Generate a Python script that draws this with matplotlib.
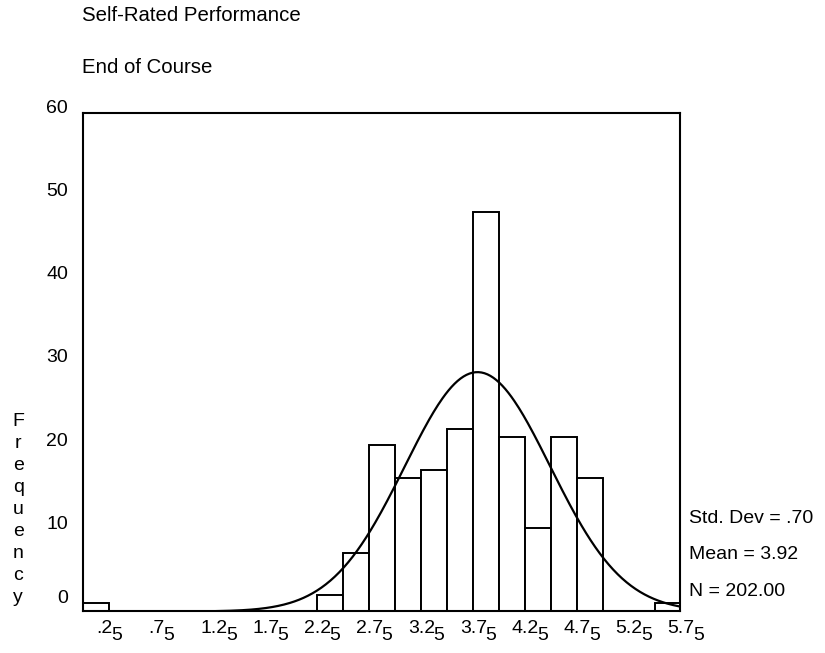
import matplotlib
matplotlib.use("Agg")
import matplotlib.pyplot as plt
import matplotlib.transforms as mtransforms
import numpy as np

plt.rcParams['font.family'] = ['Liberation Sans', 'DejaVu Sans']

# Histogram bins (width .25) and frequencies
bin_centers = [0.25, 0.50, 0.75, 1.00, 1.25, 1.50, 1.75, 2.00, 2.25, 2.50, 2.75, 3.00,
               3.25, 3.50, 3.75, 4.00, 4.25, 4.50, 4.75, 5.00, 5.25, 5.50, 5.75]
counts = [1, 0, 0, 0, 0, 0, 0, 0, 0, 2, 7, 20,
          16, 17, 22, 48, 21, 10, 21, 16, 0, 0, 1]
bin_width = 0.25

# Every other bin is labelled; SPSS prints the last digit dropped below the rest
tick_values = [0.25, 0.75, 1.25, 1.75, 2.25, 2.75, 3.25, 3.75, 4.25, 4.75, 5.25, 5.75]
tick_heads = ['.2', '.7', '1.2', '1.7', '2.2', '2.7', '3.2', '3.7', '4.2', '4.7', '5.2', '5.7']
tick_tails = ['5'] * 12

std_dev = 0.70
mean = 3.92
n_total = 202

fig = plt.figure(figsize=(8.25, 6.53), dpi=100)
ax = fig.add_axes([0.1012, 0.0636, 0.7236, 0.7641])

ax.bar(bin_centers, counts, width=bin_width, color='white', edgecolor='black',
       linewidth=1.4, zorder=2)

# normal curve scaled to the histogram
xs = np.linspace(0.125, 5.875, 400)
ys = n_total * bin_width * np.exp(-0.5 * ((xs - mean) / std_dev) ** 2) / (std_dev * np.sqrt(2 * np.pi))
ax.plot(xs, ys, color='black', linewidth=1.6, zorder=3)

ax.set_xlim(0.125, 5.875)
ax.set_ylim(0, 60)
ax.set_yticks(range(0, 61, 10))
ax.set_xticks(tick_values)
ax.set_xticklabels(tick_heads, ha='left')
ax.tick_params(axis='both', length=0, labelsize=14)
ax.tick_params(axis='x', pad=6)
ax.tick_params(axis='y', pad=11)
for sp in ax.spines.values():
    sp.set_linewidth(1.5)

# the dropped last digit hangs off the right of each x label
for lab, tail in zip(ax.get_xticklabels(), tick_tails):
    ax.annotate(tail, xy=(1, 1), xycoords=lab, xytext=(-1.2, -5.5),
                textcoords='offset points', ha='left', va='top', fontsize=14,
                annotation_clip=False)

# y labels sit a little above their gridline
for lab in ax.get_yticklabels():
    dy = 15 if lab.get_text() == '0' else 6
    off = mtransforms.ScaledTranslation(0, dy / 100, fig.dpi_scale_trans)
    lab.set_transform(lab.get_transform() + off)

fig.text(0.0994, 0.9683, "Self-Rated Performance", fontsize=14.7, va='baseline')
fig.text(0.0994, 0.8877, "End of Course", fontsize=14.7, va='baseline')

fig.text(0.022, 0.22, "\n".join("Frequency"), fontsize=14, ha='center', va='center',
         multialignment='center', linespacing=1.38)

fig.text(0.835, 0.1986, "Std. Dev = .70", fontsize=14, va='baseline')
fig.text(0.835, 0.1435, "Mean = 3.92", fontsize=14, va='baseline')
fig.text(0.835, 0.0873, "N = 202.00", fontsize=14, va='baseline')

fig.savefig("out.png", dpi=100)
